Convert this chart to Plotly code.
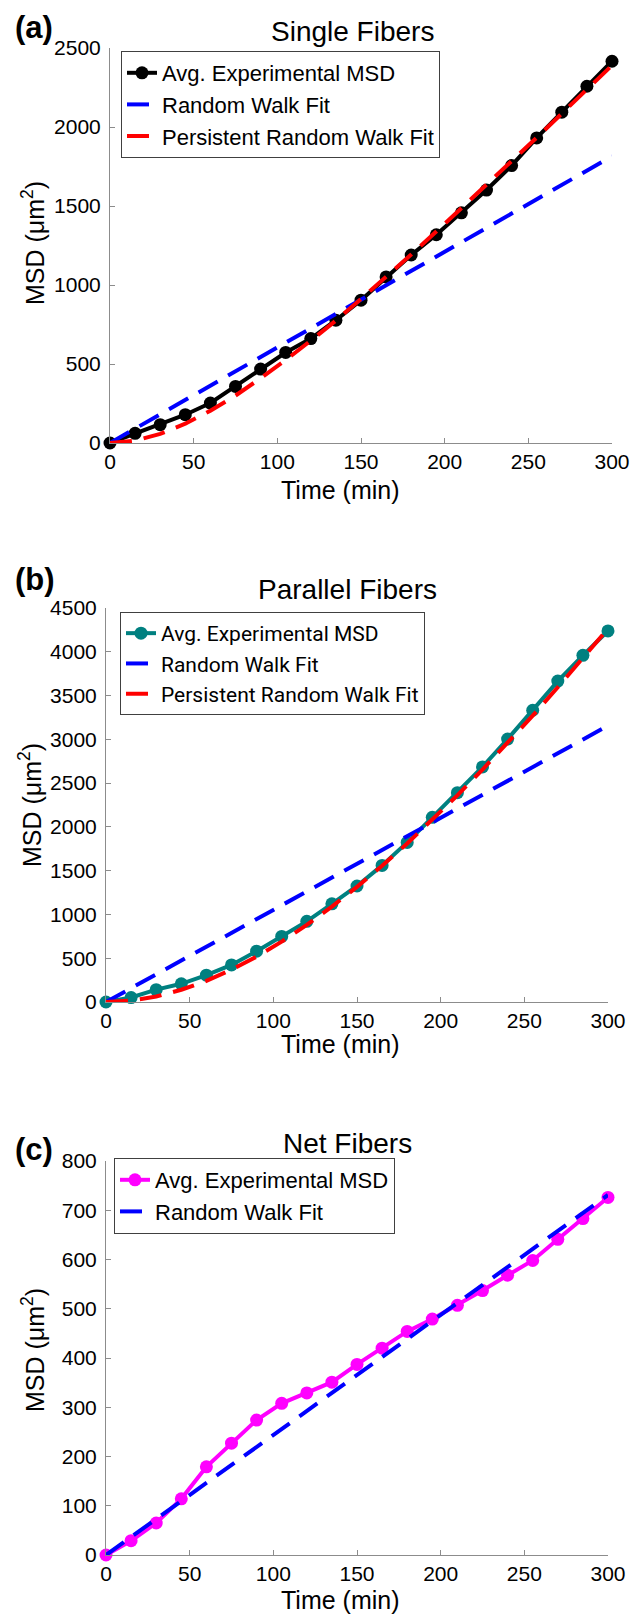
import plotly.graph_objects as go

# ---------------- data ----------------
time_min = [0, 15, 30, 45, 60, 75, 90, 105, 120, 135, 150, 165, 180, 195, 210, 225, 240, 255, 270, 285, 300]
rw_time = [0, 300]

# (a) Single fibers
msd_single = [0, 61, 116, 179, 253, 358, 468, 573, 661, 777, 904, 1051, 1190, 1318, 1457, 1601, 1756, 1931, 2094, 2258, 2416]
prw_single = [0, 15, 58, 122, 204, 300, 410, 525, 648, 775, 912, 1050, 1193, 1338, 1485, 1633, 1783, 1933, 2085, 2237, 2390]
rw_single = [0, 1815]

# (b) Parallel fibers
msd_parallel = [0, 51, 141, 208, 306, 423, 580, 749, 921, 1121, 1325, 1560, 1823, 2109, 2391, 2685, 3003, 3332, 3665, 3959, 4238]
prw_parallel = [0, 16, 63, 140, 241, 370, 517, 690, 880, 1090, 1315, 1555, 1810, 2080, 2360, 2655, 2960, 3270, 3595, 3925, 4265]
rw_parallel = [0, 3156]

# (c) Net fibers
msd_net = [0, 29, 65, 114, 179, 227, 274, 308, 329, 351, 387, 420, 454, 479, 507, 537, 568, 598, 641, 683, 726]
rw_net = [0, 731]

x_ticks = [0, 50, 100, 150, 200, 250, 300]
y_ticks_a = [0, 500, 1000, 1500, 2000, 2500]
y_ticks_b = [0, 500, 1000, 1500, 2000, 2500, 3000, 3500, 4000, 4500]
y_ticks_c = [0, 100, 200, 300, 400, 500, 600, 700, 800]

legend_names = ["Avg. Experimental MSD", "Random Walk Fit", "Persistent Random Walk Fit"]

# ---------------- layout helpers ----------------
W, H = 644, 1614
OFF = 8  # page body margin
FONT = "Liberation Sans, Arial, Helvetica, sans-serif"


def fx(p):
    return (p - OFF) / W


def fy(p):
    return 1 - (p - OFF) / H


fig = go.Figure()

DASH = "22px,12px"


def add_panel(n, exp, color, rw, prw, legend_id):
    xa = "x" if n == 1 else f"x{n}"
    ya = "y" if n == 1 else f"y{n}"
    fig.add_trace(go.Scatter(
        x=time_min, y=exp, mode="lines+markers", name=legend_names[0],
        line=dict(color=color, width=4), marker=dict(color=color, size=13),
        xaxis=xa, yaxis=ya, legend=legend_id, cliponaxis=False))
    fig.add_trace(go.Scatter(
        x=rw_time, y=rw, mode="lines", name=legend_names[1],
        line=dict(color="#0000ff", width=4, dash=DASH),
        xaxis=xa, yaxis=ya, legend=legend_id, cliponaxis=False))
    if prw is not None:
        fig.add_trace(go.Scatter(
            x=time_min, y=prw, mode="lines", name=legend_names[2],
            line=dict(color="#ff0000", width=4, dash=DASH),
            xaxis=xa, yaxis=ya, legend=legend_id, cliponaxis=False))


add_panel(1, msd_single, "#000000", rw_single, prw_single, "legend")
add_panel(2, msd_parallel, "#008080", rw_parallel, prw_parallel, "legend2")
add_panel(3, msd_net, "#ff00ff", rw_net, None, "legend3")

axis_common = dict(
    showgrid=False, zeroline=False, showline=True, linecolor="#8c8c8c", linewidth=1,
    ticks="inside", ticklen=5, tickcolor="#8c8c8c", tickwidth=1, automargin=False,
    tickfont=dict(family=FONT, size=21, color="#000000"), mirror=False,
)

panels = {
    1: dict(xl=110, xr=612, yt=48, yb=443, yr=[0, 2500], yt_vals=y_ticks_a),
    2: dict(xl=106, xr=608, yt=608, yb=1002, yr=[0, 4500], yt_vals=y_ticks_b),
    3: dict(xl=106, xr=608, yt=1161, yb=1555, yr=[0, 800], yt_vals=y_ticks_c),
}

layout_axes = {}
for n, p in panels.items():
    xk = "xaxis" if n == 1 else f"xaxis{n}"
    yk = "yaxis" if n == 1 else f"yaxis{n}"
    xa = "x" if n == 1 else f"x{n}"
    ya = "y" if n == 1 else f"y{n}"
    layout_axes[xk] = dict(axis_common, domain=[fx(p["xl"]), fx(p["xr"])], range=[0, 300],
                           tickvals=x_ticks, anchor=ya)
    layout_axes[yk] = dict(axis_common, domain=[fy(p["yb"]), fy(p["yt"])], range=p["yr"],
                           tickvals=p["yt_vals"], anchor=xa, ticklabelstandoff=4)

fig.update_layout(**layout_axes)

legend_common = dict(xanchor="left", yanchor="top", bgcolor="#ffffff", bordercolor="#404040",
                     borderwidth=1, tracegroupgap=0, itemwidth=30)
fig.update_layout(
    legend=dict(legend_common, x=fx(121), y=fy(51), font=dict(family=FONT, size=22, color="#000")),
    legend2=dict(legend_common, x=fx(120), y=fy(612), font=dict(family="Roboto, " + FONT, size=21, color="#000")),
    legend3=dict(legend_common, x=fx(114), y=fy(1158), font=dict(family=FONT, size=22, color="#000")),
)

annotations = []


def ann(text, x, y, size, bold=False, angle=0):
    annotations.append(dict(
        text=f"<b>{text}</b>" if bold else text, x=fx(x), y=fy(y), xref="paper", yref="paper",
        xanchor="center", yanchor="middle", showarrow=False, textangle=angle,
        font=dict(family=FONT, size=size, color="#000000")))


titles = ["Single Fibers", "Parallel Fibers", "Net Fibers"]
labels = ["(a)", "(b)", "(c)"]
title_pos = [(352, 31), (347, 590), (347, 1143)]
label_pos = [(34, 28), (35, 579), (34, 1149)]
ytitle_pos = [(33, 243), (30, 805), (33, 1350)]
xtitle_pos = [(341, 490), (341, 1044), (341, 1600)]

for i in range(3):
    ann(titles[i], *title_pos[i], 28)
    ann(labels[i], *label_pos[i], 31, bold=True)
    ann("MSD (μm<sup>2</sup>)", *ytitle_pos[i], 25, angle=-90)
    ann("Time (min)", *xtitle_pos[i], 25)

fig.update_layout(
    annotations=annotations,
    width=W, height=H, margin=dict(l=0, r=0, t=0, b=0, autoexpand=False),
    paper_bgcolor="#ffffff", plot_bgcolor="#ffffff",
    font=dict(family=FONT, color="#000000"),
)

fig.write_html("out.html")
